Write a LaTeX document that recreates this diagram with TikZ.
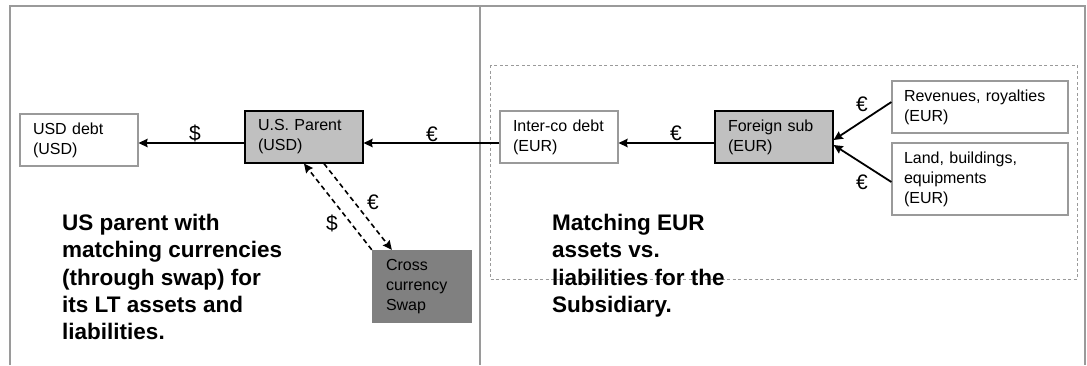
\documentclass[tikz,border=0pt]{standalone}
\usepackage{fontspec}
\setmainfont{Liberation Sans}
\usetikzlibrary{arrows.meta}
\definecolor{framegray}{HTML}{9A9A9A}
\definecolor{lightfill}{HTML}{C0C0C0}
\definecolor{darkfill}{HTML}{808080}
\tikzset{
  box/.style={rectangle, inner xsep=13pt, inner ysep=0pt, align=left,
    font=\fontsize{16}{20}\selectfont},
  plainbox/.style={box, draw=framegray, line width=1.2pt, fill=white},
  keybox/.style={box, draw=black, line width=1.2pt, fill=lightfill},
  swapbox/.style={box, fill=darkfill, inner xsep=14pt},
  arr/.style={line width=1.8pt, -{Stealth[length=9pt,width=8.5pt,inset=1pt]}},
  darr/.style={arr, line width=1.6pt, dash pattern=on 5pt off 3.5pt},
  cur/.style={font=\fontsize{21}{23}\selectfont, inner sep=0pt},
  note/.style={anchor=north west, inner sep=0pt, align=left,
    font=\bfseries\fontsize{22.5}{27.3}\selectfont},
}
\begin{document}
\begin{tikzpicture}[x=1pt, y=-1pt]
\useasboundingbox (0,0) rectangle (1087,365);

% outer frame and the divider between the two halves
\draw[framegray, line width=1.1pt] (10,365) -- (10,6) -- (1085,6) -- (1085,365);
\draw[framegray, line width=1.1pt] (480,6) -- (480,365);

% subsidiary region
\draw[framegray, line width=1pt, dash pattern=on 3pt off 2.5pt] (490,65) rectangle (1077,279);

% entities
\node[plainbox, text width=92pt, minimum height=52pt] (usd) at (79,140) {USD debt\\(USD)};
\node[keybox, text width=92pt, minimum height=52pt] (usp) at (304,137) {U.S. Parent\\(USD)};
\node[plainbox, text width=92pt, minimum height=52pt] (ico) at (559,137) {Inter-co debt\\(EUR)};
\node[keybox, text width=92pt, minimum height=52pt] (fs) at (774,137) {Foreign sub\\(EUR)};
\node[plainbox, inner xsep=12pt, text width=152pt, minimum height=52pt] (rev) at (980,107) {Revenues, royalties\\(EUR)};
\node[plainbox, inner xsep=12pt, text width=152pt, minimum height=72pt] (land) at (980,179) {Land, buildings,\\equipments\\(EUR)};
\node[swapbox, text width=72pt, minimum height=73pt] (swap) at (422,286.5) {Cross\\currency\\Swap};

% cash flows
\coordinate (row) at (0,143);
\draw[arr] (usp.west |- row) -- (usd.east |- row);
\draw[arr] (ico.west |- row) -- (usp.east |- row);
\draw[arr] (fs.west |- row) -- (ico.east |- row);
\draw[arr] ([yshift=5pt]rev.west) -- ([yshift=-3pt]fs.east);
\draw[arr] ([yshift=-3pt]land.west) -- ([yshift=-8pt]fs.east);
\draw[darr] (swap.north west) -- (usp.south);
\draw[darr] ([xshift=20pt]usp.south) -- ([xshift=20pt]swap.north west);

% currency labels
\node[cur] (c1) at (195,133) {\$};
\node[cur] (c2) at (432,134) {€};
\node[cur] (c3) at (676,133) {€};
\node[cur] (c4) at (862,104) {€};
\node[cur] (c5) at (862,182) {€};
\node[cur] (c6) at (373,202) {€};
\node[cur] (c7) at (332,223) {\$};

% commentary
\node[note] (n1) at (62,214) {US parent with\\matching currencies\\(through swap) for\\its LT assets and\\liabilities.};
\node[note] (n2) at (552,214) {Matching EUR\\assets vs.\\liabilities for the\\Subsidiary.};
\end{tikzpicture}
\end{document}
